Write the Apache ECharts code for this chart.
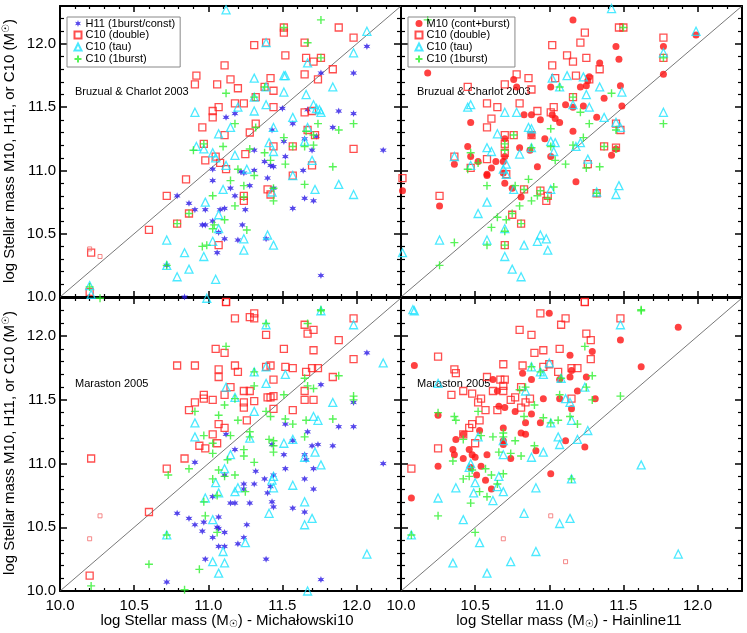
<!DOCTYPE html>
<html>
<head>
<meta charset="utf-8">
<title>Stellar mass comparison</title>
<script src="https://cdn.jsdelivr.net/npm/echarts@6/dist/echarts.min.js"></script>
<style>
  html, body { margin: 0; padding: 0; background: #fff; }
  #chart { width: 747px; height: 633px; }
</style>
</head>
<body>
<div id="chart"></div>
<script>
// axis range and tick labels (log stellar mass)
const axisMin = 10.0
const axisMax = 12.3
const tickLabels = ['10.0', '10.5', '11.0', '11.5', '12.0']

// top left: Bruzual & Charlot 2003 vs Michalowski10
const tlH11 = [[12.07, 11.98], [11.98, 11.77], [11.76, 11.77], [11.88, 11.47], [11.98, 11.45], [11.84, 11.34], [11.50, 11.49], [11.57, 11.37], [11.67, 11.48], [11.65, 11.25], [11.73, 11.27], [11.70, 11.16], [11.52, 11.11], [11.51, 11.23], [11.43, 11.32], [11.31, 11.16], [11.38, 11.07], [11.42, 11.04], [11.44, 11.03], [11.31, 11.00], [11.24, 10.98], [11.22, 10.99], [11.40, 10.94], [11.28, 10.88], [11.44, 10.86], [11.65, 10.78], [11.71, 10.76], [11.64, 11.00], [11.57, 10.70], [11.18, 10.80], [11.25, 10.69], [11.15, 10.86], [11.11, 10.70], [11.08, 10.69], [11.03, 10.92], [11.03, 11.01], [11.12, 11.42], [11.18, 11.45], [10.98, 10.69], [10.91, 10.69], [10.87, 10.74], [10.79, 10.80], [10.96, 10.57], [10.98, 10.57], [11.03, 10.60], [11.07, 10.51], [11.11, 10.46], [11.20, 10.45], [11.23, 10.57], [11.06, 10.35], [11.39, 10.46], [10.72, 10.25], [11.76, 10.17], [10.84, 10.00], [12.18, 11.16]]
const tlDouble = [[10.20, 10.04], [10.21, 10.35], [10.72, 10.80], [10.60, 10.53], [10.79, 10.58], [10.87, 10.66], [10.85, 10.93], [10.97, 11.21], [10.98, 11.08], [10.96, 11.34], [10.91, 11.68], [10.92, 11.75], [11.03, 11.47], [11.03, 11.42], [11.07, 11.50], [11.06, 11.68], [11.11, 11.83], [11.11, 11.28], [11.05, 11.11], [11.08, 11.06], [11.12, 11.01], [11.07, 10.41], [11.12, 9.96], [11.15, 11.72], [11.20, 11.65], [11.18, 11.53], [11.24, 11.53], [11.25, 11.13], [11.28, 11.30], [11.32, 11.37], [11.32, 11.58], [11.31, 11.99], [11.39, 12.01], [11.38, 11.66], [11.42, 11.73], [11.44, 11.63], [11.44, 11.50], [11.44, 11.19], [11.24, 10.80], [11.24, 10.76], [11.40, 10.85], [11.42, 10.81], [11.51, 12.13], [11.51, 12.09], [11.52, 11.91], [11.57, 11.19], [11.57, 10.96], [11.65, 12.01], [11.66, 11.89], [11.65, 11.76], [11.71, 11.86], [11.74, 11.72], [11.76, 11.89], [11.65, 11.46], [11.70, 11.47], [11.67, 11.32], [11.72, 11.28], [11.70, 11.04], [11.84, 11.80], [11.88, 12.13], [11.98, 12.05], [11.98, 11.17]]
const tlSmall = [[10.20, 10.38], [10.27, 10.32]]
const tlTau = [[11.12, 12.27], [12.07, 12.10], [11.39, 12.01], [11.98, 11.93], [11.67, 11.85], [11.51, 11.75], [11.52, 11.75], [11.31, 11.73], [11.84, 11.66], [11.39, 11.66], [11.51, 11.62], [11.66, 11.60], [11.31, 11.58], [11.39, 11.52], [11.20, 11.50], [11.71, 11.52], [11.73, 11.49], [11.75, 11.48], [11.76, 11.46], [11.31, 11.47], [10.91, 11.46], [11.57, 11.42], [11.15, 11.34], [11.44, 11.34], [11.67, 11.34], [11.07, 11.29], [11.41, 11.22], [10.92, 11.19], [10.97, 11.17], [11.03, 11.14], [11.44, 11.15], [11.65, 11.23], [11.18, 11.12], [11.05, 11.10], [11.12, 11.04], [11.26, 11.01], [11.70, 11.08], [11.57, 10.96], [11.88, 10.89], [11.72, 10.85], [11.10, 10.85], [11.98, 10.81], [11.43, 10.83], [10.98, 10.75], [11.07, 10.65], [11.07, 10.54], [11.03, 10.44], [10.72, 10.45], [11.24, 10.46], [11.24, 10.37], [11.40, 10.49], [11.44, 10.41], [10.84, 10.35], [10.97, 10.32], [10.87, 10.22], [10.79, 10.16], [11.05, 10.14], [10.20, 10.09], [10.21, 10.02], [10.99, 9.99], [10.72, 10.25]]
const tl1burst = [[11.76, 12.19], [11.51, 12.13], [11.67, 12.01], [11.76, 11.89], [11.38, 11.66], [11.12, 11.61], [11.31, 11.58], [11.18, 11.37], [11.32, 11.34], [11.74, 11.37], [11.98, 11.37], [11.88, 11.32], [11.66, 11.31], [11.71, 11.28], [11.51, 11.26], [11.71, 11.20], [11.65, 11.19], [11.57, 11.19], [10.97, 11.21], [11.10, 11.19], [10.90, 11.16], [11.28, 11.17], [11.38, 11.14], [11.52, 11.05], [11.42, 11.08], [11.84, 11.03], [11.20, 11.01], [11.31, 10.96], [11.15, 10.92], [11.65, 10.89], [11.24, 10.88], [11.44, 10.86], [11.03, 10.80], [11.24, 10.79], [11.18, 10.72], [11.44, 10.76], [10.79, 10.58], [10.87, 10.66], [11.04, 10.57], [11.11, 10.61], [11.26, 10.53], [11.03, 10.54], [10.96, 10.40], [10.99, 10.41], [10.72, 10.25], [10.20, 10.08], [10.27, 9.99], [11.76, 9.90]]

// top right: Bruzual & Charlot 2003 vs Hainline11
const trM10 = [[11.16, 12.19], [10.18, 11.77], [11.99, 12.07], [11.77, 11.98], [11.77, 11.76], [11.45, 11.98], [11.47, 11.88], [11.34, 11.85], [11.27, 11.74], [11.26, 11.71], [11.25, 11.67], [11.21, 11.66], [11.01, 11.66], [10.76, 11.72], [10.78, 11.66], [11.48, 11.67], [11.37, 11.57], [11.16, 11.50], [11.23, 11.51], [11.49, 11.51], [11.11, 11.52], [11.02, 11.44], [11.04, 11.41], [11.07, 11.38], [10.88, 11.44], [10.83, 11.44], [10.94, 11.40], [11.32, 11.42], [11.16, 11.31], [10.47, 11.38], [10.88, 11.28], [10.97, 11.25], [10.70, 11.25], [10.80, 11.18], [10.45, 11.19], [10.47, 11.11], [10.70, 11.11], [10.87, 11.16], [11.01, 11.11], [10.64, 11.07], [10.69, 11.07], [10.52, 11.07], [10.36, 11.05], [10.61, 11.02], [10.58, 10.97], [10.58, 10.96], [10.69, 10.98], [10.92, 11.03], [10.70, 10.90], [11.42, 11.12], [11.18, 10.91], [10.75, 10.86], [10.81, 10.79], [10.01, 10.84], [10.26, 10.72], [11.45, 11.17]]
const trDouble = [[11.47, 12.13], [11.50, 12.13], [11.24, 12.09], [11.77, 12.05], [11.21, 12.01], [11.02, 11.99], [11.12, 11.91], [11.25, 11.89], [11.16, 11.86], [11.02, 11.83], [11.34, 11.80], [11.77, 11.89], [10.78, 11.76], [10.86, 11.73], [11.04, 11.73], [11.18, 11.75], [11.27, 11.72], [10.70, 11.68], [10.45, 11.66], [10.88, 11.64], [11.16, 11.58], [10.58, 11.53], [10.65, 11.50], [10.80, 11.53], [11.03, 11.50], [10.92, 11.47], [11.01, 11.46], [10.61, 11.41], [10.58, 11.34], [11.45, 11.37], [11.48, 11.32], [10.70, 11.28], [10.76, 11.28], [10.88, 11.28], [11.37, 11.19], [11.45, 11.18], [10.70, 11.21], [10.70, 11.14], [10.58, 11.09], [10.36, 11.11], [10.47, 11.02], [11.26, 11.05], [10.71, 10.97], [10.01, 10.94], [10.26, 10.80], [10.83, 10.85], [10.94, 10.84], [10.99, 10.80], [10.98, 10.76], [11.32, 10.82], [10.75, 10.65], [10.81, 10.58], [10.70, 10.41], [11.24, 9.96]]
const trTau = [[11.42, 12.28], [11.99, 12.10], [11.77, 11.93], [11.02, 11.73], [11.12, 11.75], [11.23, 11.74], [11.07, 11.66], [11.34, 11.66], [11.49, 11.62], [11.25, 11.60], [10.45, 11.50], [10.47, 11.52], [10.78, 11.46], [10.70, 11.46], [11.16, 11.52], [11.27, 11.50], [11.77, 11.46], [11.37, 11.42], [10.86, 11.34], [10.88, 11.33], [10.65, 11.29], [11.45, 11.38], [11.48, 11.34], [11.01, 11.23], [11.04, 11.22], [11.21, 11.22], [11.18, 11.19], [10.58, 11.18], [10.61, 11.15], [10.80, 11.13], [11.03, 11.15], [10.36, 11.11], [10.88, 11.18], [11.26, 11.09], [10.71, 11.05], [10.47, 11.04], [10.69, 11.01], [10.71, 10.97], [10.76, 10.85], [11.01, 10.85], [11.47, 10.88], [11.45, 10.81], [11.32, 10.83], [10.58, 10.75], [10.52, 10.66], [10.70, 10.54], [10.26, 10.45], [10.58, 10.45], [10.01, 10.35], [10.83, 10.41], [10.94, 10.49], [10.92, 10.44], [10.98, 10.46], [10.99, 10.37], [10.70, 10.32], [10.75, 10.22], [10.81, 10.16], [10.08, 9.90]]
const tr1burst = [[10.18, 12.19], [11.50, 12.13], [11.77, 11.89], [11.07, 11.66], [11.42, 11.61], [11.16, 11.58], [11.21, 11.46], [11.27, 11.37], [11.77, 11.37], [11.01, 11.33], [11.23, 11.26], [10.76, 11.28], [11.45, 11.32], [11.01, 11.19], [11.16, 11.20], [11.37, 11.19], [11.45, 11.17], [10.70, 11.21], [10.88, 11.18], [10.70, 11.16], [10.47, 11.14], [11.04, 11.08], [11.11, 11.05], [11.25, 11.02], [11.34, 11.03], [10.52, 11.06], [10.45, 11.01], [10.86, 10.93], [10.58, 10.88], [10.77, 10.88], [11.03, 10.87], [10.94, 10.84], [10.92, 10.80], [10.88, 10.76], [10.99, 10.78], [11.32, 10.82], [10.83, 10.85], [10.80, 10.72], [10.75, 10.66], [10.65, 10.63], [10.71, 10.61], [10.81, 10.58], [10.61, 10.55], [10.70, 10.52], [10.36, 10.43], [10.58, 10.41], [10.70, 10.41], [10.26, 10.25], [11.62, 9.90]]

// bottom left: Maraston 2005 vs Michalowski10
const blH11 = [[12.07, 11.87], [11.98, 11.48], [11.98, 11.29], [11.88, 11.29], [11.84, 11.14], [11.76, 11.62], [11.74, 11.15], [11.71, 10.96], [11.71, 10.80], [11.70, 11.14], [11.67, 11.25], [11.65, 11.07], [11.66, 11.03], [11.65, 10.88], [11.65, 10.62], [11.57, 11.18], [11.57, 10.65], [11.52, 11.31], [11.51, 11.07], [11.52, 10.96], [11.44, 10.91], [11.43, 11.15], [11.42, 10.82], [11.40, 10.77], [11.38, 10.88], [11.43, 10.70], [11.44, 10.66], [11.32, 10.94], [11.31, 10.84], [11.28, 10.69], [11.24, 10.84], [11.24, 10.80], [11.18, 11.11], [11.18, 10.69], [11.15, 10.69], [11.12, 11.23], [11.11, 10.91], [11.07, 10.58], [11.11, 10.46], [11.06, 10.50], [11.07, 10.49], [11.03, 10.74], [11.03, 10.42], [11.07, 10.35], [11.11, 10.35], [11.20, 10.37], [11.24, 10.42], [11.26, 10.52], [10.97, 10.54], [10.96, 10.47], [10.91, 10.52], [10.87, 10.57], [10.79, 10.61], [10.98, 10.25], [11.39, 10.25], [10.91, 11.01], [10.72, 10.07], [11.76, 10.09], [12.18, 11.00]]
const blDouble = [[11.12, 12.27], [11.31, 12.18], [11.31, 12.14], [11.28, 12.15], [11.18, 12.14], [11.98, 12.14], [11.65, 12.09], [11.67, 12.02], [11.71, 12.05], [11.39, 12.01], [11.88, 11.97], [11.51, 11.90], [11.05, 11.90], [11.11, 11.87], [11.71, 11.89], [11.98, 11.82], [11.39, 11.76], [10.79, 11.77], [10.91, 11.77], [11.18, 11.77], [11.20, 11.72], [11.07, 11.74], [11.07, 11.68], [11.42, 11.77], [11.52, 11.76], [11.57, 11.75], [11.70, 11.75], [11.74, 11.75], [11.66, 11.72], [11.84, 11.68], [11.44, 11.66], [11.15, 11.60], [11.24, 11.57], [11.28, 11.57], [11.65, 11.57], [10.97, 11.54], [11.11, 11.54], [10.97, 11.51], [11.03, 11.50], [11.40, 11.52], [11.44, 11.53], [11.42, 11.52], [11.31, 11.49], [11.65, 11.50], [11.71, 11.50], [10.91, 11.48], [11.24, 11.48], [11.24, 11.44], [10.87, 11.42], [11.44, 11.43], [11.57, 11.42], [11.26, 11.34], [11.07, 11.31], [11.11, 11.28], [11.03, 11.23], [11.06, 11.16], [10.94, 11.14], [10.98, 11.12], [10.84, 11.04], [10.72, 10.96], [10.21, 11.04], [10.60, 10.62], [10.20, 10.12]]
const blSmall = [[10.20, 10.41], [10.27, 10.59]]
const blTau = [[11.76, 12.20], [11.39, 12.09], [11.98, 12.09], [11.31, 11.72], [11.39, 11.76], [11.52, 11.70], [11.39, 11.63], [11.12, 11.60], [11.18, 11.52], [11.31, 11.41], [11.84, 11.48], [11.71, 11.37], [11.74, 11.34], [10.91, 11.32], [10.91, 11.21], [11.28, 11.20], [11.57, 11.19], [11.51, 11.16], [11.15, 11.07], [11.65, 11.05], [11.72, 11.09], [11.11, 10.96], [11.76, 10.99], [11.05, 10.85], [11.44, 10.90], [11.43, 10.87], [11.57, 10.83], [11.44, 10.81], [11.20, 10.81], [11.18, 10.78], [11.07, 10.77], [10.98, 10.73], [11.65, 10.70], [11.41, 10.61], [11.03, 10.56], [11.70, 10.57], [11.65, 10.52], [10.72, 10.44], [11.25, 10.38], [11.10, 10.31], [11.03, 10.23], [11.11, 10.22], [11.07, 10.14], [12.07, 10.29], [11.67, 10.00], [12.18, 11.79]]
const bl1burst = [[11.76, 12.20], [11.39, 12.10], [11.67, 12.10], [11.12, 11.92], [11.31, 11.72], [11.88, 11.69], [11.65, 11.67], [11.31, 11.61], [11.67, 11.61], [11.71, 11.59], [11.18, 11.51], [11.51, 11.54], [11.98, 11.53], [11.98, 11.50], [11.11, 11.46], [10.91, 11.41], [11.39, 11.41], [11.07, 11.38], [11.42, 11.37], [11.52, 11.35], [11.66, 11.34], [11.84, 11.35], [11.20, 11.34], [11.57, 11.31], [11.28, 11.25], [11.15, 11.22], [10.97, 11.22], [11.28, 11.21], [11.65, 11.21], [11.41, 11.19], [11.44, 11.18], [11.44, 11.14], [11.44, 11.09], [11.03, 11.16], [11.24, 11.11], [11.24, 11.06], [11.03, 11.08], [11.13, 11.03], [11.31, 11.01], [10.87, 10.96], [10.73, 10.91], [11.07, 10.95], [11.11, 10.90], [11.18, 10.91], [11.03, 10.88], [11.06, 10.75], [11.25, 10.78], [10.97, 10.70], [10.98, 10.59], [11.06, 10.46], [10.72, 10.44], [10.60, 10.21], [10.94, 10.17], [10.21, 10.04], [10.84, 10.01]]

// bottom right: Maraston 2005 vs Hainline11
const brM10 = [[11.00, 12.18], [11.87, 12.07], [11.48, 11.97], [11.62, 11.76], [11.29, 11.88], [11.14, 11.85], [10.09, 11.77], [11.25, 11.68], [11.07, 11.66], [11.15, 11.73], [11.14, 11.68], [10.82, 11.71], [10.88, 11.66], [10.62, 11.66], [10.65, 11.57], [11.19, 11.57], [11.31, 11.51], [11.07, 11.51], [10.96, 11.51], [11.15, 11.43], [10.66, 11.45], [10.70, 11.44], [10.77, 11.41], [10.88, 11.39], [10.25, 11.38], [10.84, 11.32], [10.94, 11.32], [10.53, 11.26], [10.69, 11.28], [10.81, 11.24], [10.84, 11.23], [10.42, 11.23], [10.37, 11.19], [10.69, 11.18], [10.69, 11.15], [11.11, 11.18], [11.24, 11.13], [10.35, 11.11], [10.46, 11.11], [10.36, 11.07], [10.48, 11.07], [10.50, 11.05], [10.58, 11.07], [10.91, 11.10], [10.74, 11.04], [10.42, 11.04], [10.25, 10.98], [10.47, 10.97], [10.54, 10.98], [10.51, 10.91], [10.57, 10.87], [11.01, 10.92], [10.61, 10.80], [10.07, 10.73]]
const brDouble = [[11.24, 12.27], [10.94, 12.18], [11.11, 12.14], [11.08, 12.09], [10.80, 12.05], [10.88, 12.01], [11.25, 12.02], [11.28, 11.97], [11.48, 12.14], [10.96, 11.89], [10.90, 11.87], [11.07, 11.90], [11.28, 11.82], [10.25, 11.84], [11.00, 11.78], [10.69, 11.78], [10.82, 11.77], [10.96, 11.76], [11.15, 11.75], [11.19, 11.75], [10.36, 11.74], [10.37, 11.71], [11.06, 11.72], [10.58, 11.68], [10.67, 11.66], [10.70, 11.66], [10.69, 11.61], [10.81, 11.60], [10.42, 11.57], [10.48, 11.55], [10.34, 11.54], [10.62, 11.57], [10.69, 11.57], [10.54, 11.51], [10.74, 11.50], [10.77, 11.52], [10.87, 11.51], [10.52, 11.48], [10.84, 11.48], [10.81, 11.44], [11.15, 11.51], [10.57, 11.42], [10.65, 11.42], [10.53, 11.34], [10.48, 11.31], [10.46, 11.28], [10.42, 11.23], [10.50, 11.16], [10.25, 11.12], [10.07, 10.96]]
const brSmall = [[11.01, 10.59], [10.69, 10.41], [11.11, 10.23]]
const brTau = [[10.09, 12.20], [11.48, 12.09], [11.00, 11.79], [10.88, 11.76], [10.94, 11.72], [10.96, 11.70], [11.08, 11.67], [10.25, 11.63], [11.24, 11.60], [10.84, 11.57], [11.11, 11.51], [11.14, 11.48], [10.52, 11.21], [11.15, 11.34], [11.01, 11.32], [11.26, 11.26], [11.06, 11.21], [11.19, 11.19], [11.07, 11.15], [10.69, 11.18], [10.96, 11.09], [10.69, 11.07], [10.88, 11.05], [10.47, 11.00], [10.46, 10.97], [11.62, 10.99], [10.66, 10.90], [10.50, 10.85], [11.15, 10.88], [10.65, 10.82], [10.37, 10.81], [10.91, 10.81], [10.49, 10.77], [10.69, 10.78], [10.25, 10.73], [10.62, 10.71], [10.83, 10.61], [10.42, 10.56], [11.14, 10.57], [11.07, 10.53], [10.07, 10.44], [10.53, 10.38], [10.91, 10.31], [10.35, 10.22], [10.74, 10.23], [10.58, 10.14], [11.87, 10.29]]
const br1burst = [[11.62, 12.20], [11.24, 11.92], [11.29, 11.69], [11.25, 11.60], [10.88, 11.76], [10.94, 11.72], [11.08, 11.67], [10.80, 11.58], [10.84, 11.60], [11.07, 11.54], [11.48, 11.53], [11.29, 11.50], [10.90, 11.46], [10.52, 11.41], [10.25, 11.40], [10.36, 11.37], [10.37, 11.34], [10.83, 11.37], [10.96, 11.36], [11.06, 11.34], [11.14, 11.37], [11.19, 11.31], [11.01, 11.32], [10.69, 11.24], [10.62, 11.21], [10.54, 11.22], [10.42, 11.19], [10.77, 11.18], [10.69, 11.21], [10.90, 11.14], [10.66, 11.09], [10.74, 11.08], [10.81, 11.06], [10.35, 11.02], [10.48, 10.95], [10.57, 10.96], [10.61, 10.91], [10.46, 10.90], [10.69, 10.92], [10.42, 10.88], [10.65, 10.84], [11.15, 10.88], [10.53, 10.78], [10.58, 10.74], [10.47, 10.69], [10.25, 10.59], [10.07, 10.44], [10.50, 10.46]]

const nameH11 = 'H11 (1burst/const)'
const nameM10 = 'M10 (cont+burst)'
const nameDouble = 'C10 (double)'
const nameTau = 'C10 (tau)'
const name1burst = 'C10 (1burst)'

const FONT = 'Liberation Sans, Arial, Helvetica, sans-serif'

// 6 armed star for H11
function starPath() {
  let d = ''
  for (let k = 0; k < 12; k++) {
    const a = (-90 + k * 30) * Math.PI / 180
    const r = k % 2 ? 0.45 : 1
    d += (k ? 'L' : 'M') + (r * Math.cos(a)).toFixed(3) + ',' + (r * Math.sin(a)).toFixed(3)
  }
  return 'path://' + d + 'Z'
}
const PLUS = 'path://M0,-1L0,1M-1,0L1,0'

const styles = {
  h11: { symbol: starPath(), symbolSize: 7, itemStyle: { color: '#2a18e6' } },
  m10: { symbol: 'circle', symbolSize: 7, itemStyle: { color: '#ff1111' } },
  double: { symbol: 'rect', symbolSize: 7, itemStyle: { color: 'none', borderColor: '#ff2222', borderWidth: 1.3 } },
  small: { symbol: 'rect', symbolSize: 4, itemStyle: { color: 'none', borderColor: '#f26a6a', borderWidth: 1 } },
  tau: { symbol: 'triangle', symbolSize: 8, itemStyle: { color: 'none', borderColor: '#1ee4ff', borderWidth: 1.3 } },
  burst: { symbol: PLUS, symbolSize: 8, itemStyle: { color: 'none', borderColor: '#2ef02e', borderWidth: 1.4 } }
}

// panel grids (pixels)
const panels = [
  { left: 60, top: 6, height: 291, xLabel: false, yLabel: true },
  { left: 401, top: 6, height: 291, xLabel: false, yLabel: false },
  { left: 60, top: 298, height: 293, xLabel: true, yLabel: true },
  { left: 401, top: 298, height: 293, xLabel: true, yLabel: false }
]

const panelSeries = [
  [['h11', nameH11, tlH11], ['double', nameDouble, tlDouble], ['small', '', tlSmall], ['tau', nameTau, tlTau], ['burst', name1burst, tl1burst]],
  [['m10', nameM10, trM10], ['double', nameDouble, trDouble], ['tau', nameTau, trTau], ['burst', name1burst, tr1burst]],
  [['h11', nameH11, blH11], ['double', nameDouble, blDouble], ['small', '', blSmall], ['tau', nameTau, blTau], ['burst', name1burst, bl1burst]],
  [['m10', nameM10, brM10], ['double', nameDouble, brDouble], ['small', '', brSmall], ['tau', nameTau, brTau], ['burst', name1burst, br1burst]]
]

function makeAxis(gridIndex, position, showLabel, isX) {
  return {
    type: 'value',
    gridIndex: gridIndex,
    position: position,
    min: axisMin,
    max: axisMax,
    interval: 0.5,
    axisLine: { show: true, onZero: false, lineStyle: { color: '#000', width: 2 } },
    axisTick: { show: true, inside: true, length: isX ? 6 : 7, lineStyle: { color: '#000', width: 1.5 } },
    minorTick: { show: true, splitNumber: 5, length: isX ? 3 : 4, lineStyle: { color: '#000', width: 1.2 } },
    axisLabel: {
      show: showLabel,
      showMaxLabel: false,
      margin: isX ? 7 : 4,
      color: '#000',
      fontSize: 15,
      fontFamily: FONT,
      formatter: function(v) {
        const s = v.toFixed(1)
        return tickLabels.indexOf(s) >= 0 ? s : ''
      }
    },
    splitLine: { show: false },
    minorSplitLine: { show: false }
  }
}

const grid = []
const xAxis = []
const yAxis = []
const series = []

panels.forEach(function(p, g) {
  grid.push({ left: p.left, top: p.top, width: 341, height: p.height, containLabel: false })
  xAxis.push(makeAxis(g, 'bottom', p.xLabel, true))
  xAxis.push(makeAxis(g, 'top', false, true))
  yAxis.push(makeAxis(g, 'left', p.yLabel, false))
  yAxis.push(makeAxis(g, 'right', false, false))
  // one-to-one line
  series.push({
    type: 'line',
    xAxisIndex: 2 * g,
    yAxisIndex: 2 * g,
    data: [[axisMin, axisMin], [axisMax, axisMax]],
    symbol: 'none',
    silent: true,
    lineStyle: { color: '#555', width: 0.8 },
    z: 1
  })
  panelSeries[g].forEach(function(s) {
    const st = styles[s[0]]
    series.push({
      type: 'scatter',
      name: s[1],
      xAxisIndex: 2 * g,
      yAxisIndex: 2 * g,
      data: s[2],
      symbol: st.symbol,
      symbolSize: st.symbolSize,
      itemStyle: st.itemStyle,
      clip: false,
      silent: true,
      z: 3
    })
  })
})

function legendAt(left, names) {
  return {
    data: names,
    left: left,
    top: 17,
    orient: 'vertical',
    itemWidth: 7,
    itemHeight: 7,
    itemGap: 0,
    padding: [1, 5, 2, 5],
    borderColor: '#888',
    borderWidth: 1,
    selectedMode: false,
    textStyle: { fontSize: 11, color: '#000', fontFamily: FONT, padding: [0, 0, 0, -1] }
  }
}

// title with a small sun symbol; sunAlign 'bottom' = subscript, 'top' = raised
function axisTitle(before, after, x, y, rotate, sunAlign) {
  return {
    type: 'text',
    x: x,
    y: y,
    rotation: rotate ? Math.PI / 2 : 0,
    z: 10,
    style: {
      text: '{a|' + before + '}{s|\u2609}{a|' + after + '}',
      align: 'center',
      verticalAlign: 'middle',
      rich: {
        a: { fill: '#000', fontSize: 15, fontFamily: FONT, lineHeight: 17 },
        s: { fill: '#000', fontSize: 10, fontFamily: 'DejaVu Sans', verticalAlign: sunAlign, lineHeight: 12 }
      }
    }
  }
}
function note(text, x, y) {
  return {
    type: 'text',
    x: x,
    y: y,
    z: 0,
    style: { text: text, fill: '#000', font: '11px ' + FONT, align: 'left', verticalAlign: 'middle' }
  }
}

const option = {
  backgroundColor: '#fff',
  animation: false,
  grid: grid,
  xAxis: xAxis,
  yAxis: yAxis,
  legend: [
    legendAt(67, [nameH11, nameDouble, nameTau, name1burst]),
    legendAt(408, [nameM10, nameDouble, nameTau, name1burst])
  ],
  graphic: [
    note('Bruzual & Charlot 2003', 75, 92),
    note('Bruzual & Charlot 2003', 417, 92),
    note('Maraston 2005', 75, 384),
    note('Maraston 2005', 417, 384),
    axisTitle('log Stellar mass M10, H11, or C10 (M', ')', 10, 151, true, 'top'),
    axisTitle('log Stellar mass M10, H11, or C10 (M', ')', 10, 443, true, 'top'),
    axisTitle('log Stellar mass (M', ') - Micha\u0142owski10', 227, 621, false, 'bottom'),
    axisTitle('log Stellar mass (M', ') - Hainline11', 569, 621, false, 'bottom')
  ],
  series: series
}

const myChart = echarts.init(document.getElementById('chart'), null, { renderer: 'canvas' })
myChart.setOption(option)
</script>
</body>
</html>
